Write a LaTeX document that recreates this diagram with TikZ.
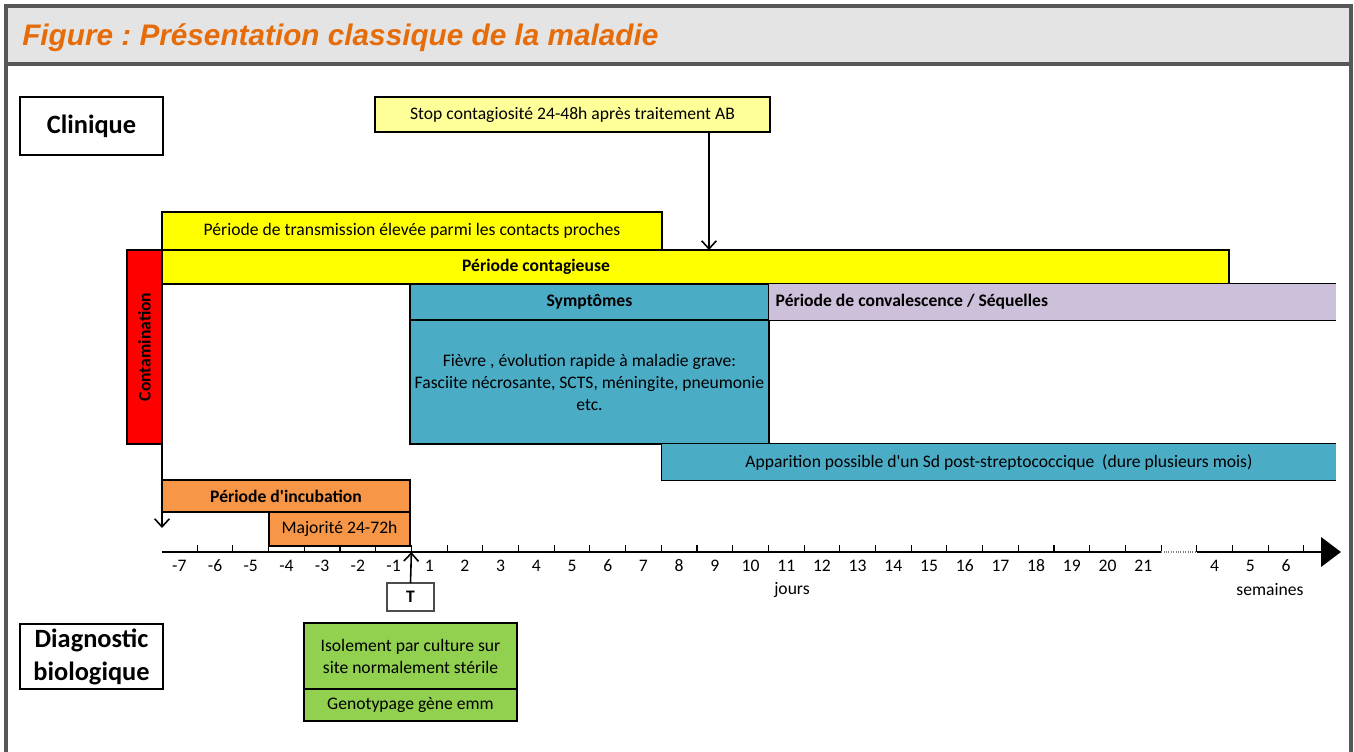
\documentclass[tikz,border=0pt]{standalone}
\usepackage{fontspec}
\setmainfont{Carlito}[Ligatures=TeXOff]
\newfontfamily\titlefont{Liberation Sans}
\usetikzlibrary{arrows.meta}
\definecolor{jaune}{HTML}{FFFF00}
\definecolor{jaunepale}{HTML}{FFFF99}
\definecolor{bleu}{HTML}{4BACC6}
\definecolor{lilas}{HTML}{CCC0DA}
\definecolor{orange}{HTML}{F79646}
\definecolor{vert}{HTML}{92D050}
\definecolor{rouge}{HTML}{FF0000}
\definecolor{titreorange}{HTML}{E66C0A}
\definecolor{fondtitre}{HTML}{E4E4E4}
\definecolor{cadre}{HTML}{575757}
\tikzset{
    box/.style={draw,line width=0.8pt,inner sep=0pt,outer sep=0pt,align=center},
    gras/.style={font=\fontsize{13.2}{16.5}\selectfont\bfseries},
    gros/.style={font=\fontsize{19.8}{24.8}\selectfont\bfseries},
    fleche/.style={->,line width=1.2pt}
}
\frenchspacing

\begin{document}
\begin{tikzpicture}[x=0.75pt,y=-0.75pt,>={Straight Barb[length=6pt,width=11pt]},font=\fontsize{13.2}{16.5}\selectfont]
            \useasboundingbox (0,0) rectangle (1354,752);
            \fill[fondtitre] (6,6) rectangle (1351,64);
            \draw[cadre,line width=2.3pt] (6,752)--(6,6)--(1351,6)--(1351,752);
            \draw[cadre,line width=2.3pt] (6,64)--(1351,64);
            \node[anchor=base west,inner sep=0pt,text=titreorange,font=\titlefont\bfseries\itshape\fontsize{22.3}{26}\selectfont] (titre) at (22,46) {Figure : Présentation classique de la maladie};
            \node[box,gros,minimum width=107.25pt,minimum height=43.5pt] (clin) at (91.5,126) {Clinique};
            \node[box,gros,minimum width=107.25pt,minimum height=48.75pt] (diag) at (91.5,656.5) {Diagnostic\\biologique};
            \node[box,fill=jaunepale,minimum width=296.25pt,minimum height=26.25pt] (stop) at (572.5,114.5) {Stop contagiosité 24-48h après traitement AB};
            \node[box,fill=jaune,minimum width=375pt,minimum height=28.5pt] (transm) at (412,231) {Période de transmission élevée parmi les contacts proches};
            \node[box,fill=jaune,minimum width=800.25pt,minimum height=25.5pt] (contag) at (695.5,267) {};
            \node[gras] (contaglbl) at (536,267) {Période contagieuse};
            \node[box,fill=rouge,minimum width=26.25pt,minimum height=145.5pt] (contam) at (144.5,347) {};
            \node[rotate=90,gras] (contamlbl) at (contam) {Contamination};
            \node[box,fill=bleu,gras,minimum width=269.25pt,minimum height=27pt] (symh) at (589.5,302) {Symptômes};
            \node[box,fill=bleu,minimum width=269.25pt,minimum height=93pt] (symb) at (589.5,382) {Fièvre , évolution rapide à maladie grave:\\Fasciite nécrosante, SCTS, méningite, pneumonie\\etc.};
            \node[fill=lilas,inner sep=0pt,minimum width=425.25pt,minimum height=27pt] (conv) at (1052.5,302) {};
            \draw[line width=0.8pt] (conv.north east)--(conv.north west)--(conv.south west)--(conv.south east);
            \node[anchor=west,gras] (convlbl) at (771,302) {Période de convalescence / Séquelles};
            \node[fill=bleu,inner sep=0pt,minimum width=505.5pt,minimum height=27pt] (appar) at (999,462) {Apparition possible d'un Sd post-streptococcique ~(dure plusieurs mois)};
            \draw[line width=0.8pt] (appar.north east)--(appar.north west)--(appar.south west)--(appar.south east);
            \node[box,fill=orange,gras,minimum width=186pt,minimum height=24pt] (incub) at (286,496) {Période d'incubation};
            \node[box,fill=orange,minimum width=105.75pt,minimum height=25.5pt] (major) at (339.5,529) {Majorité 24-72h};
            \node[box,draw=black!70,gras,minimum width=35.25pt,minimum height=21pt] (tbox) at (410.5,597) {T};
            \node[box,fill=vert,minimum width=159.75pt,minimum height=49.5pt] (isol) at (410.5,656) {Isolement par culture sur\\site normalement stérile};
            \node[box,fill=vert,minimum width=159.75pt,minimum height=24pt] (geno) at (410.5,705) {Genotypage gène emm};
            \coordinate (stopend) at (709,250);
            \draw[fleche] (stop.south -| stopend)--(stopend);
            \coordinate (contamend) at (161,528);
            \draw[fleche] (contam.south east)--(contam.south east |- contamend);
            \coordinate (ax0) at (161.5,552);
            \coordinate (gapA) at (1161.1,552);
            \coordinate (gapB) at (1196.8,552);
            \coordinate (axend) at (1341,552);
            \coordinate (t0) at (411.4,552);
            \foreach \k in {1,...,32}
                \draw[line width=0.8pt] ({161.5+35.7*\k},545)--({161.5+35.7*\k},552);
            \draw[line width=2.2pt] (ax0)--(gapA);
            \draw[densely dotted,gray,line width=0.8pt] (gapA)--(gapB);
            \draw[line width=2.2pt,-{Triangle[length=15pt,width=22pt]}] (gapB)--(axend);
            \draw[fleche] (tbox.north)--(t0);
            \foreach \t [count=\i from 0] in {-7,-6,...,-1,1,2,...,21}
                \node (jr\i) at ({161.5+35.7*(\i+0.5)},566) {\t};
            \foreach \t [count=\i from 29] in {4,5,6}
                \node (sm\i) at ({161.5+35.7*(\i+0.5)},566) {\t};
            \node (jours) at (792,590) {jours};
            \node (semaines) at (1270,590) {semaines};
        \end{tikzpicture}
\end{document}
